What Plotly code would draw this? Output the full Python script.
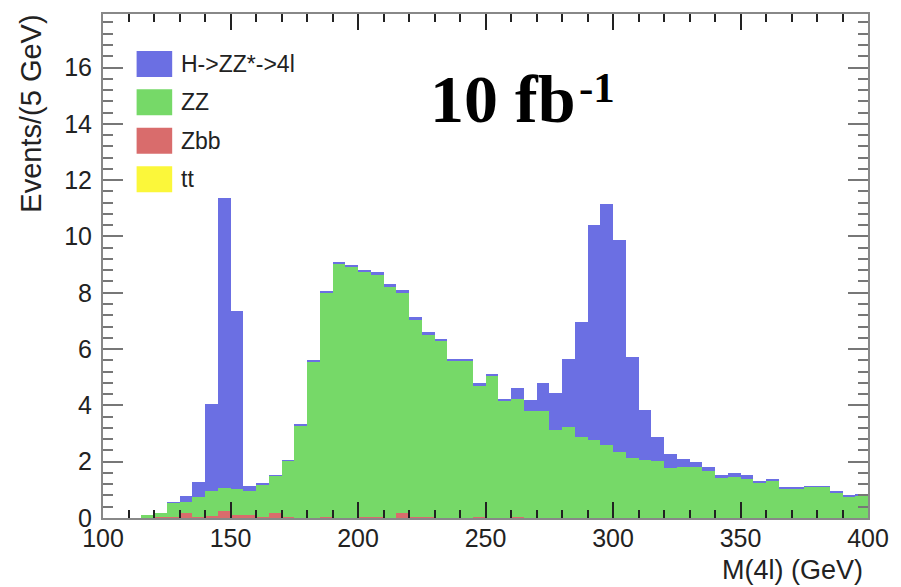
import numpy as np
import plotly.graph_objects as go

# ---- data: 5 GeV bins from 100 to 400 GeV (bin lower edges) ----
bin_lo = np.arange(100, 400, 5)

series_names = ["H->ZZ*->4l", "ZZ", "Zbb", "tt"]

h_signal = [0, 0, 0, 0, 0, 0.02, 0.20, 0.52, 3.11, 10.31,
            6.33, 0.18, 0.03, 0.02, 0.02, 0.02, 0.05, 0.08, 0.04, 0.05,
            0.10, 0.10, 0.10, 0.10, 0.10, 0.11, 0.02, 0.08, 0.06, 0.10,
            0.10, 0.06, 0.39, 0.37, 0.97, 1.32, 2.42, 4.08, 7.62, 8.57,
            7.51, 3.60, 1.77, 0.86, 0.51, 0.30, 0.20, 0.12, 0.11, 0.15,
            0.15, 0.03, 0.03, 0.03, 0.03, 0.01, 0.01, 0.02, 0.02, 0.07]

zz = [0, 0, 0, 0.10, 0.15, 0.49, 0.41, 0.72, 0.87, 0.79,
      0.92, 0.87, 1.15, 1.33, 1.98, 3.30, 5.55, 7.93, 9.03, 8.92,
      8.67, 8.57, 8.22, 7.82, 6.99, 6.45, 6.32, 5.58, 5.60, 4.63,
      5.03, 4.18, 4.16, 3.81, 3.81, 3.12, 3.24, 2.88, 2.77, 2.59,
      2.35, 2.12, 2.06, 2.02, 1.78, 1.80, 1.80, 1.68, 1.41, 1.46,
      1.37, 1.26, 1.32, 1.05, 1.05, 1.12, 1.12, 0.91, 0.77, 0.80]

zbb = [0, 0, 0, 0, 0.04, 0.05, 0.17, 0.03, 0.08, 0.26,
       0.10, 0.10, 0.05, 0.17, 0.05, 0, 0, 0.05, 0, 0,
       0.05, 0.05, 0, 0.17, 0.05, 0.05, 0, 0, 0, 0.05,
       0, 0, 0.05, 0, 0, 0, 0, 0, 0, 0,
       0, 0, 0, 0, 0, 0, 0, 0, 0, 0,
       0, 0, 0, 0, 0, 0, 0, 0, 0, 0]

tt = [0] * 60

x_ticks = [100, 150, 200, 250, 300, 350, 400]
y_ticks = [0, 2, 4, 6, 8, 10, 12, 14, 16]

colors = {"H->ZZ*->4l": "#6b6fe3", "ZZ": "#76d968", "Zbb": "#d96c6c", "tt": "#fbf73a"}

centers = bin_lo + 2.5

fig = go.Figure()
# stacking order bottom -> top: tt, Zbb, ZZ, H
for name, vals in [("tt", tt), ("Zbb", zbb), ("ZZ", zz), ("H->ZZ*->4l", h_signal)]:
    fig.add_trace(go.Bar(
        x=centers, y=vals, width=5, name=name,
        marker=dict(color=colors[name], line=dict(width=0)),
        showlegend=False,
    ))

# plot area in pixels (for paper-coordinate helpers)
L, R, T, B = 103, 877, 13, 518
W, H = R - L, B - T
def px(x):
    return (x - L) / W
def py(y):
    return (B - y) / H

shapes = []
annotations = []
# custom legend (large ROOT-style boxes)
for k, name in enumerate(series_names):
    cy = 63 + 38.5 * k
    shapes.append(dict(type="rect", xref="paper", yref="paper",
                       x0=px(137), x1=px(173), y0=py(cy + 13), y1=py(cy - 13),
                       fillcolor=colors[name], line=dict(width=0), layer="above"))
    annotations.append(dict(xref="paper", yref="paper", x=px(180), y=py(cy),
                            xanchor="left", yanchor="middle", showarrow=False,
                            text=name, font=dict(family="Liberation Sans", size=23, color="#222")))

# luminosity label: "10 fb" with superscript "-1"
annotations.append(dict(xref="paper", yref="paper", x=px(432), y=py(98),
                        xanchor="left", yanchor="middle", showarrow=False,
                        text="<b>10 fb</b>",
                        font=dict(family="Liberation Serif", size=68, color="black")))
annotations.append(dict(xref="paper", yref="paper", x=px(583), y=py(87),
                        xanchor="left", yanchor="middle", showarrow=False,
                        text="<b>-1</b>",
                        font=dict(family="Liberation Serif", size=43, color="black")))
annotations.append(dict(xref="paper", yref="paper", x=px(30), y=py(113),
                        xanchor="center", yanchor="middle", showarrow=False, textangle=-90,
                        text="Events/(5 GeV)",
                        font=dict(family="Liberation Sans", size=29, color="#222")))
annotations.append(dict(xref="paper", yref="paper", x=px(874), y=py(570),
                        xanchor="right", yanchor="middle", showarrow=False,
                        text="M(4l) (GeV)",
                        font=dict(family="Liberation Sans", size=27, color="#222")))

fig.update_layout(
    width=901, height=587,
    margin=dict(l=L, r=901 - R, t=T, b=587 - B),
    paper_bgcolor="white", plot_bgcolor="white",
    barmode="stack", bargap=0,
    shapes=shapes, annotations=annotations,
    showlegend=False,
)
fig.update_xaxes(
    range=[100, 400], tickmode="array", tickvals=x_ticks,
    ticks="inside", ticklen=16, tickwidth=2, tickcolor="#222",
    minor=dict(dtick=10, ticks="inside", ticklen=8, tickwidth=2, tickcolor="#222"),
    showline=True, linecolor="#888", linewidth=2, mirror="ticks",
    showgrid=False, zeroline=False,
    tickfont=dict(family="Liberation Sans", size=25, color="#222"),
    ticklabelstandoff=-3,
)
fig.update_yaxes(
    range=[0, 17.9], tickmode="array", tickvals=y_ticks,
    ticks="inside", ticklen=20, tickwidth=2, tickcolor="#777",
    minor=dict(dtick=0.4, ticks="inside", ticklen=10, tickwidth=2, tickcolor="#777"),
    showline=True, linecolor="#888", linewidth=2, mirror="ticks",
    showgrid=False, zeroline=False,
    tickfont=dict(family="Liberation Sans", size=25, color="#222"),
    ticklabelstandoff=4,
)

fig.write_html("out.html",
               config={"displayModeBar": False},
               post_script="document.body.style.margin='0';document.body.style.overflow='hidden';")
